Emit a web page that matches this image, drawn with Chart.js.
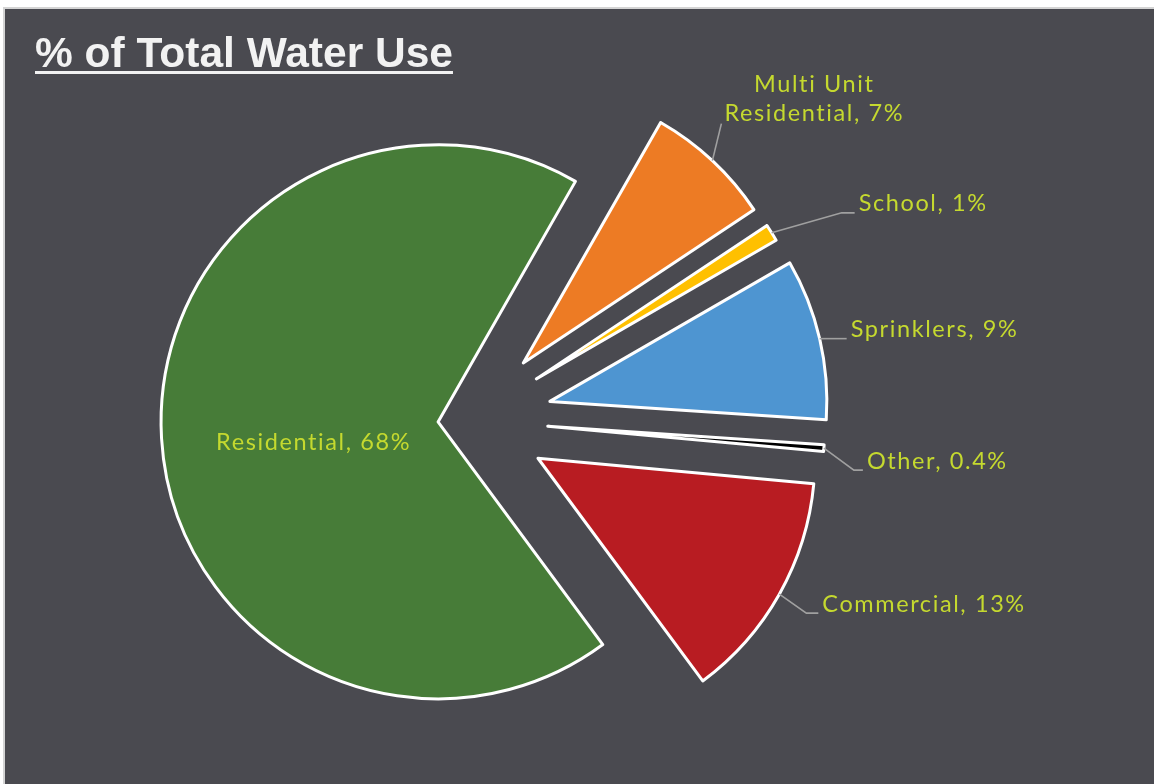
<!DOCTYPE html>
<html>
<head>
<meta charset="utf-8">
<script src="https://cdn.jsdelivr.net/npm/chart.js@4.4.1/dist/chart.umd.min.js"></script>
<style>
  body { margin: 0; background: #ffffff; }
  #panel { position: absolute; left: 3px; top: 7px; width: 1149px; height: 775px;
           border-top: 2px solid #d4d4d4; border-left: 2px solid #d4d4d4; background: #4a4a50; }
  #title { position: absolute; left: 30px; top: 23px; margin: 0;
           font: bold 42.5px "Liberation Sans", Arial, sans-serif; line-height: 42px; color: #f2f2f2;
           text-decoration: underline; text-decoration-thickness: 3px; text-underline-offset: 4px; }
  canvas { position: absolute; left: 0; top: 0; }
</style>
</head>
<body>
<div id="panel">
  <canvas id="waterChart" width="1149" height="775"></canvas>
  <h1 id="title">% of Total Water Use</h1>
</div>
<script>
var categories = ['Residential', 'Multi Unit Residential', 'School', 'Sprinklers', 'Other', 'Commercial'];
var shares = [68.4, 7.4, 1.0, 9.4, 0.4, 13.4];
var sliceColors = ['#477c38', '#ed7b24', '#ffc000', '#4e95d1', '#000000', '#b81c22'];

// how far each slice is pulled out from the middle (px)
var explode = [32, 78, 78, 82, 78, 78];

// leader line bend + horizontal run, relative to the arc mid point
var labelLayout = [
    { inside: true, dist: 0.45, dy: 13 },
    { bend: [9, -37], run: 0, wrap: 2 },
    { bend: [70, -20], run: 13 },
    { bend: [27, 0], run: 0 },
    { bend: [30, 22], run: 9 },
    { bend: [27, 19], run: 12 }
];

function pctText(v) {
    return (v < 1 ? v.toFixed(1) : Math.round(v)) + '%';
}

function sliceCenter(arc, i) {
    var mid = (arc.startAngle + arc.endAngle) / 2;
    return { x: arc.x + Math.cos(mid) * explode[i], y: arc.y + Math.sin(mid) * explode[i], mid: mid };
}

var explodePlugin = {
    id: 'explode',
    beforeDatasetDraw: function (chart, args) {
        args.meta.data.forEach(function (arc, i) {
            var c = sliceCenter(arc, i);
            arc._home = { x: arc.x, y: arc.y };
            arc.x = c.x;
            arc.y = c.y;
        });
    },
    afterDatasetDraw: function (chart, args) {
        args.meta.data.forEach(function (arc) {
            arc.x = arc._home.x;
            arc.y = arc._home.y;
        });
    }
};

var labelPlugin = {
    id: 'sliceLabels',
    afterDatasetsDraw: function (chart) {
        var ctx = chart.ctx;
        var meta = chart.getDatasetMeta(0);
        ctx.save();
        ctx.font = '23.5px Lato';
        ctx.letterSpacing = '1.6px';
        ctx.fillStyle = '#c5d92f';
        ctx.strokeStyle = '#a0a0a0';
        ctx.lineWidth = 1.6;
        meta.data.forEach(function (arc, i) {
            var c = sliceCenter(arc, i);
            var L = labelLayout[i];
            var text = categories[i] + ', ' + pctText(shares[i]);
            var cos = Math.cos(c.mid), sin = Math.sin(c.mid);
            if (L.inside) {
                ctx.textAlign = 'center';
                ctx.textBaseline = 'middle';
                ctx.fillText(text, c.x + cos * arc.outerRadius * L.dist, c.y + sin * arc.outerRadius * L.dist + L.dy);
                return;
            }
            var ax = c.x + cos * arc.outerRadius, ay = c.y + sin * arc.outerRadius;
            var bx = ax + L.bend[0], by = ay + L.bend[1];
            var ex = bx + L.run, ey = by;
            ctx.beginPath();
            ctx.moveTo(ax, ay);
            ctx.lineTo(bx, by);
            if (L.run) ctx.lineTo(ex, ey);
            ctx.stroke();
            if (L.wrap) {
                var words = text.split(' ');
                var lines = [words.slice(0, L.wrap).join(' '), words.slice(L.wrap).join(' ')];
                var w = Math.max(ctx.measureText(lines[0]).width, ctx.measureText(lines[1]).width);
                ctx.textAlign = 'center';
                ctx.textBaseline = 'middle';
                ctx.fillText(lines[1], ex + 3 + w / 2, ey - 10);
                ctx.fillText(lines[0], ex + 3 + w / 2, ey - 39);
            } else {
                ctx.textAlign = 'left';
                ctx.textBaseline = 'middle';
                ctx.fillText(text, ex + 4, ey - 9);
            }
        });
        ctx.restore();
    }
};

new Chart(document.getElementById('waterChart'), {
    type: 'pie',
    data: {
        labels: categories,
        datasets: [{
            data: shares,
            backgroundColor: sliceColors,
            borderColor: '#ffffff',
            borderWidth: 3,
            borderJoinStyle: 'round'
        }]
    },
    options: {
        responsive: false,
        animation: false,
        rotation: 143.5,
        radius: 277,
        layout: { padding: { left: 0, right: 219, top: 47, bottom: 0 } },
        plugins: {
            legend: { display: false },
            tooltip: { enabled: false }
        }
    },
    plugins: [explodePlugin, labelPlugin]
});
</script>
</body>
</html>
